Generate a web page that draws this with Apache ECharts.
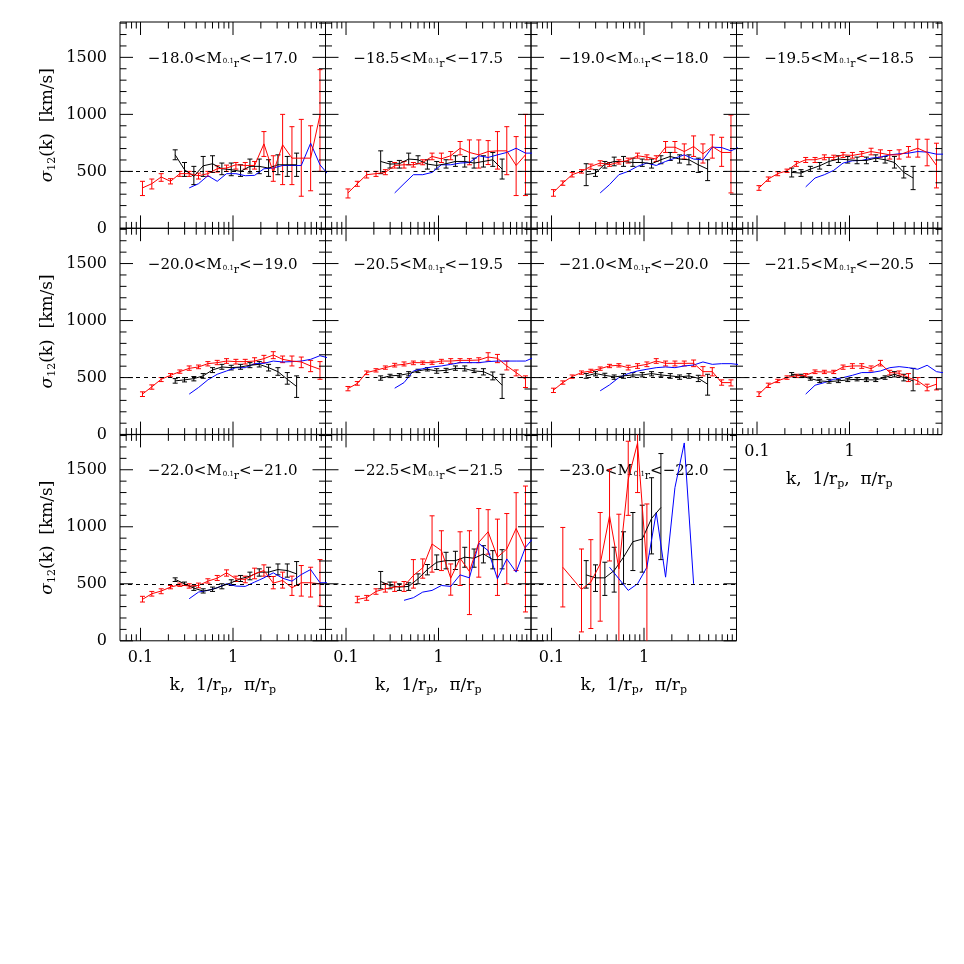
<!DOCTYPE html>
<html><head><meta charset="utf-8">
<script src="https://cdn.jsdelivr.net/npm/echarts@6/dist/echarts.min.js"></script>
<style>html,body{margin:0;padding:0;background:#fff}#c{width:964px;height:964px}</style>
</head><body><div id="c"></div>
<script>
// ---- axis ranges & ticks ----
const XMIN = 0.06, XMAX = 10, YMIN = 0, YMAX = 1810;
const xMajorTicks = [0.1, 1];
const xMinorTicks = [0.07,0.08,0.09,0.2,0.3,0.4,0.5,0.6,0.7,0.8,0.9,2,3,4,5,6,7,8,9];
const yMajorTicks = [0, 500, 1000, 1500];
const yMinorTicks = [100,200,300,400,600,700,800,900,1100,1200,1300,1400,1600,1700,1800];
const refLevel = 500;

// ---- k bins ----
const kRed = [0.105,0.1325,0.1672,0.211,0.2662,0.3359,0.4239,0.5349,0.675,0.8517,1.0747,1.356,1.711,2.159,2.725,3.438,4.338,5.474,6.907,8.716];
const kBlack = [0.237,0.299,0.3773,0.4761,0.6008,0.7581,0.9566,1.207,1.523,1.922,2.425,3.06,3.862,4.873];
const kBlue = [0.105,0.1325,0.1672,0.211,0.2662,0.3359,0.4239,0.5349,0.675,0.8517,1.0747,1.356,1.711,2.159,2.725,3.438,4.338,5.474,6.907,8.716,10.998];

// ---- panel labels [lower, upper] ----
const magLow = ['−18.0','−18.5','−19.0','−19.5','−20.0','−20.5','−21.0','−21.5','−22.0','−22.5','−23.0'];
const magHigh = ['−17.0','−17.5','−18.0','−18.5','−19.0','−19.5','−20.0','−20.5','−21.0','−21.5','−22.0'];

// ---- data: red [sigma, lo, hi] on kRed, black on kBlack, blue on kBlue ----
const red1 = [[355,288,413],[392,346,433],[451,413,480],[413,390,436],[480,456,500],[480,456,500],[462,433,485],[480,456,500],[523,494,549],[529,500,555],[558,520,578],[552,520,578],[552,520,587],[741,631,849],[491,413,637],[733,384,1000],[616,384,892],[616,282,956],[616,330,900],[994,500,1392]];
const black1 = [[645,602,689],[515,456,578],[456,384,544],[549,456,631],[567,491,637],[523,471,573],[515,462,573],[500,456,558],[544,485,608],[544,480,608],[529,456,602],[558,471,645],[558,456,631],[558,456,660]];
const blue1 = [null,null,null,null,null,355,392,462,413,480,480,462,465,523,529,552,552,552,747,558,461];

const red2 = [[311,267,346],[392,369,413],[471,442,500],[480,456,500],[491,471,515],[552,529,578],[558,529,587],[558,538,578],[578,558,602],[631,602,660],[610,578,660],[637,602,674],[703,645,762],[666,558,776],[645,529,776],[674,560,770],[680,520,849],[680,471,892],[552,288,805],[645,288,1000]];
const black2 = [[587,480,680],[564,529,587],[567,529,596],[608,558,660],[602,567,637],[564,520,602],[552,520,587],[567,529,602],[587,544,637],[587,538,631],[573,529,616],[587,538,637],[602,544,666],[520,433,608]];
const blue2 = [null,null,null,null,null,311,392,471,471,491,558,558,573,578,637,622,645,666,703,660,660];

const red3 = [[317,282,340],[398,378,416],[471,451,491],[500,485,515],[544,520,564],[573,549,593],[558,544,578],[581,564,602],[596,573,616],[637,616,660],[625,602,645],[608,587,637],[712,666,762],[712,666,762],[674,608,741],[718,631,811],[654,573,741],[718,616,820],[666,544,799],[666,311,994]];
const black3 = [[471,375,567],[485,456,515],[564,529,587],[587,549,625],[587,544,631],[578,544,616],[578,544,608],[567,529,608],[602,567,637],[631,596,666],[608,573,645],[602,558,645],[558,491,616],[520,419,602]];
const blue3 = [null,null,null,null,null,311,384,471,500,544,573,552,587,616,645,608,602,712,709,680,718];

const red4 = [[355,334,375],[433,413,451],[480,462,497],[506,491,520],[567,544,587],[602,578,622],[602,578,622],[622,602,645],[622,602,642],[645,622,666],[640,616,666],[654,631,674],[674,645,703],[660,625,689],[645,608,683],[645,608,689],[674,625,718],[703,625,782],[666,549,782],[552,355,747]];
const black4 = [[491,451,529],[485,456,515],[520,500,544],[549,520,578],[587,552,622],[608,578,637],[602,573,631],[596,567,625],[596,567,625],[616,587,645],[602,573,631],[578,529,631],[491,442,544],[442,340,544]];
const blue4 = [null,null,null,null,null,364,442,471,509,573,593,596,616,625,645,654,660,674,669,651,651];

const red5 = [[355,334,375],[419,398,436],[485,465,500],[520,506,535],[552,538,567],[581,564,602],[593,578,610],[622,602,640],[631,613,651],[645,625,666],[640,619,660],[640,619,660],[645,616,674],[666,631,695],[698,666,727],[660,631,689],[645,602,689],[637,587,680],[602,552,651],[573,485,640]];
const black5 = [[471,451,491],[480,462,500],[491,471,509],[515,494,535],[567,544,587],[593,573,616],[587,567,608],[593,573,616],[608,587,631],[616,593,640],[587,558,616],[552,520,587],[485,442,544],[422,326,515]];
const blue5 = [null,null,null,null,null,355,413,480,529,558,587,587,622,625,645,637,640,645,660,692,670];

const red6 = [[404,384,422],[448,433,465],[544,526,558],[564,549,578],[587,573,602],[608,593,625],[616,602,637],[631,613,645],[631,616,645],[631,616,645],[645,625,660],[645,625,666],[651,631,666],[651,631,666],[654,631,674],[680,645,718],[669,631,703],[602,567,645],[544,515,567],[485,413,515]];
const black6 = [[494,477,515],[515,500,529],[520,506,535],[535,515,552],[558,544,573],[573,558,587],[558,538,578],[564,544,581],[581,564,602],[578,558,602],[558,544,578],[552,523,578],[515,480,549],[433,317,529]];
const blue6 = [null,null,null,null,null,407,456,558,578,593,602,616,631,631,631,640,645,645,645,645,680];

const red7 = [[390,369,407],[456,442,471],[509,494,523],[544,529,558],[558,544,573],[578,564,593],[602,587,616],[608,593,622],[587,567,608],[602,581,622],[616,596,637],[645,625,666],[625,602,645],[625,602,645],[625,602,645],[625,596,654],[552,515,596],[552,515,587],[456,433,480],[456,427,480]];
const black7 = [[515,494,535],[535,515,552],[520,500,538],[506,485,523],[515,494,535],[523,506,544],[523,506,544],[535,515,552],[523,506,544],[515,494,535],[506,485,523],[515,494,535],[494,465,520],[442,346,529]];
const blue7 = [null,null,null,null,null,384,436,500,535,558,573,587,593,587,602,610,637,616,622,622,613];

const red8 = [[355,334,375],[433,413,451],[471,456,485],[500,485,515],[515,500,529],[520,506,535],[552,535,567],[549,535,564],[549,535,564],[593,573,610],[602,581,622],[602,581,622],[578,558,602],[625,602,651],[544,523,564],[538,515,558],[500,465,535],[471,442,500],[413,384,442],[442,392,500]];
const black8 = [[529,515,544],[515,500,529],[491,477,506],[471,456,485],[465,451,485],[471,456,485],[480,465,494],[485,471,500],[480,465,494],[480,465,494],[500,485,515],[529,506,552],[500,471,529],[471,384,581]];
const blue8 = [null,null,null,null,null,355,433,456,485,500,520,544,544,558,587,596,587,573,608,552,539];

const red9 = [[363,340,390],[413,392,433],[436,413,456],[471,456,485],[491,477,506],[480,462,500],[485,465,506],[523,506,544],[549,529,573],[596,567,622],[544,520,567],[538,509,567],[587,544,637],[616,567,666],[506,456,564],[529,462,602],[465,398,567],[509,392,660],[509,384,645],[500,305,712]];
const black9 = [[538,520,552],[500,485,515],[462,442,480],[436,419,456],[451,433,471],[480,456,500],[509,485,535],[544,520,573],[567,535,602],[602,567,631],[602,564,645],[625,578,674],[616,558,674],[587,485,695]];
const blue9 = [null,null,null,null,null,369,427,442,465,500,480,477,515,552,596,549,523,581,625,509,509];

const red10 = [null,[363,334,390],[378,355,398],[433,408,456],[456,427,500],[471,433,515],[480,433,520],[573,462,712],[640,549,718],[849,602,1096],[791,616,965],[549,400,674],[724,485,956],[608,230,965],[863,558,1160],[956,760,1150],[733,398,1067],[805,500,1116],[985,616,1299],[805,253,1357]];
const black10 = [[520,456,608],[485,456,515],[471,442,500],[477,442,509],[544,500,587],[625,578,669],[689,625,753],[703,631,776],[703,625,785],[733,645,820],[724,645,805],[762,683,834],[712,631,791],[712,631,799]];
const blue10 = [null,null,null,null,null,null,355,378,427,442,485,477,578,552,855,791,544,718,602,820,917];

const red11 = [null,[645,297,994],null,[451,78,805],[515,108,887],[674,172,1125],[1096,700,1500],[631,-200,1110],[1416,1100,1750],[1735,1300,2200],[631,-300,1200],null,null,null,null,null,null,null,null,null];
const black11 = [[578,462,703],[552,433,666],[552,398,689],[616,427,820],[733,500,956],[869,616,1125],[892,602,1189],[1073,762,1430],[1169,712,1642]];
const blue11 = [null,null,null,null,null,null,645,544,442,500,645,1125,558,1343,1735,500,null,null,null,null,null];

const redSets = [red1,red2,red3,red4,red5,red6,red7,red8,red9,red10,red11];
const blackSets = [black1,black2,black3,black4,black5,black6,black7,black8,black9,black10,black11];
const blueSets = [blue1,blue2,blue3,blue4,blue5,blue6,blue7,blue8,blue9,blue10,blue11];

// ---- layout ----
const FONT = 'DejaVu Serif';
const GX = [120, 325.5, 531, 736.5], GW = 205.5;
const GY = [22, 228.2, 434.4], GH = 206.4;
const COLORS = {red:'#ff0000', black:'#000000', blue:'#0000ff'};

function linePts(ks, arr){ const o=[]; arr.forEach((d,i)=>{ if(d!=null) o.push([ks[i], Array.isArray(d)?d[0]:d]); }); return o; }
function errPts(ks, arr){ const o=[]; arr.forEach((d,i)=>{ if(d!=null) o.push([ks[i], d[0], d[1], d[2]]); }); return o; }

function errRender(params, api){
  const x = api.value(0), lo = api.value(2), hi = api.value(3);
  const p1 = api.coord([x, lo]), p2 = api.coord([x, hi]);
  const c = api.visual('color'); const w = 2.5;
  const st = {stroke:c, lineWidth:1};
  return {type:'group', children:[
    {type:'line', shape:{x1:p1[0],y1:p1[1],x2:p2[0],y2:p2[1]}, style:st},
    {type:'line', shape:{x1:p1[0]-w,y1:p1[1],x2:p1[0]+w,y2:p1[1]}, style:st},
    {type:'line', shape:{x1:p2[0]-w,y1:p2[1],x2:p2[0]+w,y2:p2[1]}, style:st}
  ]};
}
const tickData = [];
xMajorTicks.forEach(v=>tickData.push([v, YMIN, 0]));
xMinorTicks.forEach(v=>tickData.push([v, YMIN, 1]));
yMajorTicks.forEach(v=>tickData.push([XMIN, v, 2]));
yMinorTicks.forEach(v=>tickData.push([XMIN, v, 3]));
function tickRender(params, api){
  const xv = api.value(0), yv = api.value(1), kind = api.value(2);
  const L = (kind===0||kind===2) ? 13 : 6.5;
  const st = {stroke:'#000', lineWidth:1};
  if (kind < 2){
    const b = api.coord([xv, YMIN]), t = api.coord([xv, YMAX]);
    return {type:'group', children:[
      {type:'line', shape:{x1:b[0],y1:b[1],x2:b[0],y2:b[1]-L}, style:st},
      {type:'line', shape:{x1:t[0],y1:t[1],x2:t[0],y2:t[1]+L}, style:st}]};
  } else {
    const l = api.coord([XMIN, yv]), r = api.coord([XMAX, yv]);
    return {type:'group', children:[
      {type:'line', shape:{x1:l[0],y1:l[1],x2:l[0]+L,y2:l[1]}, style:st},
      {type:'line', shape:{x1:r[0],y1:r[1],x2:r[0]-L,y2:r[1]}, style:st}]};
  }
}
function xLabel(v){
  const l = Math.log10(v);
  if (Math.abs(l+1) < 1e-6) return '0.1';
  if (Math.abs(l) < 1e-6) return '1';
  return '';
}

const grids=[], xAxes=[], yAxes=[], series=[], graphics=[];
for (let p=0; p<11; p++){
  const r = Math.floor(p/4), c = p%4;
  const showX = (r===2) || (p===7);
  const showY = (c===0);
  grids.push({left:GX[c], top:GY[r], width:GW, height:GH, show:true, borderColor:'#000', borderWidth:1, backgroundColor:'transparent'});
  xAxes.push({gridIndex:p, type:'log', logBase:10, min:XMIN, max:XMAX,
    axisLine:{show:false}, axisTick:{show:false}, splitLine:{show:false},
    axisLabel:{show:showX, formatter:xLabel, fontSize:16, color:'#000', fontFamily:FONT, margin:9, showMinLabel:true, showMaxLabel:true},
    name: showX ? 'k,  1/r{s|p},  π/r{s|p}' : '', nameLocation:'middle', nameGap:35,
    nameTextStyle:{fontSize:17, color:'#000', fontFamily:FONT, rich:{s:{fontSize:11, fontFamily:FONT, color:'#000', padding:[9,0,0,0]}}}
  });
  yAxes.push({gridIndex:p, type:'value', min:YMIN, max:YMAX, interval:500,
    axisLine:{show:false}, axisTick:{show:false}, splitLine:{show:false},
    axisLabel:{show:showY, formatter:v=>(v%500===0?String(v):''), fontSize:16, color:'#000', fontFamily:FONT, margin:13},
    name: showY ? '{g|σ}{s|12}(k)  [km/s]' : '', nameLocation:'middle', nameRotate:90, nameGap:62,
    nameTextStyle:{fontSize:17, color:'#000', fontFamily:FONT, rich:{g:{fontSize:17,fontFamily:FONT,color:'#000',fontStyle:'italic'}, s:{fontSize:11, fontFamily:FONT, color:'#000', padding:[9,0,0,0]}}}
  });
  series.push({type:'line', xAxisIndex:p, yAxisIndex:p, data:linePts(kBlue, blueSets[p]), symbol:'none',
    lineStyle:{color:COLORS.blue, width:1}, itemStyle:{color:COLORS.blue}, silent:true,
    markLine:{silent:true, symbol:'none', label:{show:false}, animation:false,
      lineStyle:{type:[4,4], color:'#000', width:1}, data:[{yAxis:refLevel}]}});
  series.push({type:'line', xAxisIndex:p, yAxisIndex:p, data:linePts(kBlack, blackSets[p]), symbol:'none',
    lineStyle:{color:COLORS.black, width:1}, itemStyle:{color:COLORS.black}, silent:true});
  series.push({type:'custom', xAxisIndex:p, yAxisIndex:p, data:errPts(kBlack, blackSets[p]), renderItem:errRender,
    itemStyle:{color:COLORS.black}, encode:{x:0, y:1}, clip:true, silent:true});
  series.push({type:'line', xAxisIndex:p, yAxisIndex:p, data:linePts(kRed, redSets[p]), symbol:'none',
    lineStyle:{color:COLORS.red, width:1}, itemStyle:{color:COLORS.red}, silent:true});
  series.push({type:'custom', xAxisIndex:p, yAxisIndex:p, data:errPts(kRed, redSets[p]), renderItem:errRender,
    itemStyle:{color:COLORS.red}, encode:{x:0, y:1}, clip:true, silent:true});
  series.push({type:'custom', xAxisIndex:p, yAxisIndex:p, data:tickData, renderItem:tickRender,
    encode:{x:0, y:1}, clip:false, silent:true, z:5});
  graphics.push({type:'text', x:GX[c]+GW/2, y:GY[r]+37, silent:true,
    style:{text: magLow[p] + '<M{a|0.1}{b|r}<' + magHigh[p], fill:'#000', font:'15px "DejaVu Serif"',
      fontSize:15, fontFamily:FONT, align:'center', verticalAlign:'middle', textAlign:'center', textVerticalAlign:'middle',
      rich:{a:{fontSize:7, fontFamily:FONT, fill:'#000', padding:[5,0,0,1]}, b:{fontSize:11, fontFamily:FONT, fill:'#000', padding:[10,0,0,0]}}}});
}

const chart = echarts.init(document.getElementById('c'), null, {renderer:'canvas'});
chart.setOption({animation:false, backgroundColor:'#fff', grid:grids, xAxis:xAxes, yAxis:yAxes, series:series, graphic:graphics});
</script></body></html>
